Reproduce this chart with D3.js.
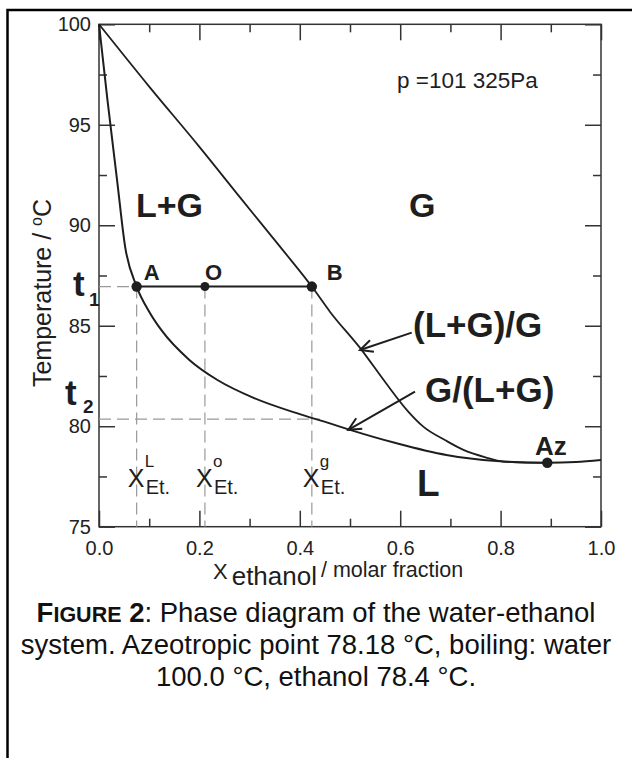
<!DOCTYPE html>
<html>
<head>
<meta charset="utf-8">
<script src="https://cdn.jsdelivr.net/npm/d3@7"></script>
<style>
  body { margin: 0; background: #fff; }
  svg { display: block; font-family: "Liberation Sans", Arial, Helvetica, sans-serif; }
</style>
</head>
<body>
<script>
// Dew curve, (L+G)/G : mole fraction of ethanol and temperature (°C)
const dewX = [0, 0.1, 0.2, 0.285, 0.365, 0.424, 0.46, 0.523, 0.57, 0.616, 0.646, 0.69, 0.726, 0.77, 0.805, 0.85, 0.893];
const dewT = [100, 96.9, 93.9, 91.26, 88.8, 86.95, 85.7, 83.8, 82.2, 80.73, 79.98, 79.3, 78.82, 78.45, 78.24, 78.19, 78.18];

// Bubble curve, G/(L+G)
const bubbleX = [0, 0.017, 0.036, 0.052, 0.075, 0.1, 0.124, 0.18, 0.236, 0.309, 0.4, 0.46, 0.5, 0.593, 0.692, 0.792, 0.893, 0.95, 1.0];
const bubbleT = [100, 96.2, 92.25, 88.94, 86.95, 85.7, 84.79, 83.3, 82.3, 81.4, 80.6, 80.14, 79.82, 79.15, 78.57, 78.27, 78.18, 78.22, 78.32];

// tie line at t1 and the second temperature t2
const t1 = 86.95;
const t2 = 80.35;
const tieNames = ["A", "O", "B"];
const tieX = [0.075, 0.211, 0.424];
const tieSup = ["L", "o", "g"];
const azeotrope = [0.893, 78.18];

// axis ticks
const xMajor = [0, 0.2, 0.4, 0.6, 0.8, 1.0];
const xMinor = [0.1, 0.3, 0.5, 0.7, 0.9];
const yMajor = [75, 80, 85, 90, 95, 100];
const yMinor = [77.5, 82.5, 87.5, 92.5, 97.5];

const W = 632, H = 758;
const svg = d3.select("body").append("svg")
    .attr("width", W)
    .attr("height", H);

// outer frame (only top and left are visible)
svg.append("path")
    .attr("d", "M7.5," + H + " L7.5,10 L" + W + ",10")
    .attr("fill", "none")
    .attr("stroke", "#000")
    .attr("stroke-width", 2.5);

const x = d3.scaleLinear().domain([0, 1]).range([99, 601]);
const y = d3.scaleLinear().domain([75, 100]).range([526.7, 24.3]);

const ink = "#1e1e1e";

// axes, ticks pointing inward
function styleAxis(g) {
    g.select(".domain").remove();
    g.selectAll(".tick line").attr("stroke", "#333").attr("stroke-width", 1.5);
    g.selectAll(".tick text").attr("fill", "#222").style("font-size", "20px")
        .style("font-family", "'Liberation Sans', Arial, sans-serif");
}
svg.append("g").attr("transform", "translate(0," + y(75) + ")")
    .call(d3.axisBottom(x).tickValues(xMajor).tickSize(-16).tickPadding(14).tickFormat(d3.format(".1f")))
    .call(styleAxis);
svg.append("g").attr("transform", "translate(0," + y(75) + ")")
    .call(d3.axisBottom(x).tickValues(xMinor).tickSize(-8).tickFormat(""))
    .call(styleAxis);
svg.append("g").attr("transform", "translate(0," + y(100) + ")")
    .call(d3.axisTop(x).tickValues(xMajor).tickSize(-16).tickFormat(""))
    .call(styleAxis);
svg.append("g").attr("transform", "translate(0," + y(100) + ")")
    .call(d3.axisTop(x).tickValues(xMinor).tickSize(-8).tickFormat(""))
    .call(styleAxis);
svg.append("g").attr("transform", "translate(" + x(0) + ",0)")
    .call(d3.axisLeft(y).tickValues(yMajor).tickSize(-16).tickPadding(8).tickFormat(d3.format("d")))
    .call(styleAxis);
svg.append("g").attr("transform", "translate(" + x(0) + ",0)")
    .call(d3.axisLeft(y).tickValues(yMinor).tickSize(-8).tickFormat(""))
    .call(styleAxis);
svg.append("g").attr("transform", "translate(" + x(1) + ",0)")
    .call(d3.axisRight(y).tickValues(yMajor).tickSize(-16).tickFormat(""))
    .call(styleAxis);
svg.append("g").attr("transform", "translate(" + x(1) + ",0)")
    .call(d3.axisRight(y).tickValues(yMinor).tickSize(-8).tickFormat(""))
    .call(styleAxis);

svg.append("rect")
    .attr("x", x(0)).attr("y", y(100))
    .attr("width", x(1) - x(0)).attr("height", y(75) - y(100))
    .attr("fill", "none").attr("stroke", "#333").attr("stroke-width", 1.5);

// dashed guide lines
const dash = svg.append("g")
    .attr("stroke", "#999").attr("stroke-width", 1.2)
    .attr("stroke-dasharray", "12,6").attr("fill", "none");
dash.append("line").attr("x1", x(0)).attr("x2", x(tieX[0])).attr("y1", y(t1)).attr("y2", y(t1));
dash.append("line").attr("x1", x(0)).attr("x2", x(0.44)).attr("y1", y(t2)).attr("y2", y(t2));
tieX.forEach(v => {
    dash.append("line").attr("x1", x(v)).attr("x2", x(v)).attr("y1", y(t1)).attr("y2", y(75));
});

// curves
const line = d3.line().x(d => x(d[0])).y(d => y(d[1])).curve(d3.curveMonotoneX);
svg.append("path")
    .datum(dewX.map((v, i) => [v, dewT[i]]))
    .attr("d", line).attr("fill", "none").attr("stroke", ink).attr("stroke-width", 1.8);
svg.append("path")
    .datum(bubbleX.map((v, i) => [v, bubbleT[i]]))
    .attr("d", line).attr("fill", "none").attr("stroke", ink).attr("stroke-width", 2);

// tie line A-O-B
svg.append("line")
    .attr("x1", x(tieX[0])).attr("x2", x(tieX[2]))
    .attr("y1", y(t1)).attr("y2", y(t1))
    .attr("stroke", ink).attr("stroke-width", 2);

svg.selectAll(".pt")
    .data(tieX.map(v => [v, t1]).concat([azeotrope]))
    .enter().append("circle")
    .attr("cx", d => x(d[0])).attr("cy", d => y(d[1]))
    .attr("r", (d, i) => i === 1 ? 4.5 : 5.2)
    .attr("fill", ink);

// arrows
function arrow(from, to) {
    const x1 = x(from[0]), y1 = y(from[1]), x2 = x(to[0]), y2 = y(to[1]);
    const a = Math.atan2(y2 - y1, x2 - x1), len = 14, spread = 0.45;
    const g = svg.append("g").attr("stroke", ink).attr("stroke-width", 2).attr("fill", "none");
    g.append("line").attr("x1", x1).attr("y1", y1).attr("x2", x2).attr("y2", y2);
    g.append("path").attr("d",
        "M" + (x2 - len * Math.cos(a - spread)) + "," + (y2 - len * Math.sin(a - spread)) +
        " L" + x2 + "," + y2 +
        " L" + (x2 - len * Math.cos(a + spread)) + "," + (y2 - len * Math.sin(a + spread)));
}
arrow([0.623, 84.66], [0.52, 83.79]);
arrow([0.6295, 81.72], [0.4966, 79.82]);

// text labels
function label(txt, px, py, size, weight, anchor) {
    return svg.append("text")
        .attr("x", px).attr("y", py)
        .attr("font-size", size).attr("font-weight", weight || "normal")
        .attr("text-anchor", anchor || "start")
        .attr("fill", ink)
        .text(txt);
}
label("p =101 325Pa", 397, 88, 22.5);
label("L+G", 136, 217, 34, "bold");
label("G", 409, 217, 34, "bold");
label("L", 417, 496, 37, "bold");
label("(L+G)/G", 413, 337, 35, "bold");
label("G/(L+G)", 425, 402, 35, "bold");
label("Az", 535, 455, 26, "bold");

const nameDx = [7, 0, 15];
tieNames.forEach((n, i) => {
    label(n, x(tieX[i]) + nameDx[i], y(t1) - 7, 22, "bold");
});

// t1 and t2 on the temperature axis
label("t", 73, y(t1) + 9, 35, "bold");
label("1", 89, y(t1) + 19, 19, "bold");
label("t", 65, y(t2) - 14, 35, "bold");
label("2", 83, y(t2) - 6, 19, "bold");

// X_Et. labels under the tie line
tieX.forEach((v, i) => {
    const x0 = x(v) - 9;
    label("X", x0, 487, 25);
    label(tieSup[i], x0 + 17, 467, 17);
    label("Et.", x0 + 18, 494, 20);
});

// axis titles
const xt = svg.append("text").attr("x", 213).attr("y", 579).attr("fill", ink);
xt.append("tspan").attr("font-size", 22).text("X");
xt.append("tspan").attr("font-size", 26).attr("dx", 4).attr("dy", 6).text("ethanol");
xt.append("tspan").attr("font-size", 21.5).attr("dx", 4).attr("dy", -8).text("/ molar fraction");

const yt = svg.append("text")
    .attr("transform", "translate(51,293) rotate(-90)")
    .attr("text-anchor", "middle").attr("fill", ink);
yt.append("tspan").attr("font-size", 25).text("Temperature / ");
yt.append("tspan").attr("font-size", 16).attr("dy", -9).text("o");
yt.append("tspan").attr("font-size", 25).attr("dy", 9).text("C");

// caption
const cap = svg.append("g").attr("fill", "#111");
const c1 = cap.append("text").attr("x", 316).attr("y", 622).attr("text-anchor", "middle").attr("font-size", 27.5);
c1.append("tspan").attr("font-weight", "bold").text("F");
c1.append("tspan").attr("font-weight", "bold").attr("font-size", 21.5).text("IGURE");
c1.append("tspan").attr("font-weight", "bold").text(" 2");
c1.append("tspan").text(": Phase diagram of the water-ethanol");
cap.append("text").attr("x", 316).attr("y", 654).attr("text-anchor", "middle").attr("font-size", 27.5)
    .text("system. Azeotropic point 78.18 °C, boiling: water");
cap.append("text").attr("x", 316).attr("y", 686).attr("text-anchor", "middle").attr("font-size", 27.5)
    .text("100.0 °C, ethanol 78.4 °C.");
</script>
</body>
</html>
